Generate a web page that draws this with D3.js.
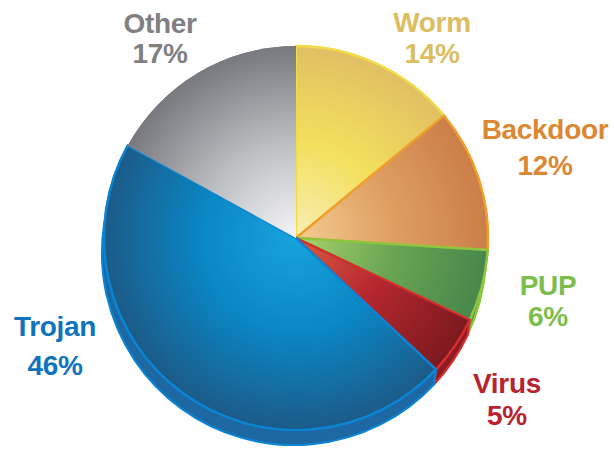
<!DOCTYPE html>
<html>
<head>
<meta charset="utf-8">
<script src="https://cdn.jsdelivr.net/npm/d3@7"></script>
<style>
  html, body { margin: 0; padding: 0; background: #fff; }
  svg { display: block; }
  text { font-family: "Liberation Sans", Arial, Helvetica, sans-serif; font-weight: bold; }
</style>
</head>
<body>
<svg id="chart" width="614" height="451"></svg>
<script>
// Malware detections by type (percent of total)
const categories = ["Worm", "Backdoor", "PUP", "Virus", "Trojan", "Other"];
const shares = [14, 12, 6, 5, 46, 17];

// Styling per category: face gradient stops, edge, side wall and label colour
const faceStops = {
  Worm:     ["#f7eeb6", "#f3e05c", "#e1bf64"],
  Backdoor: ["#f3cc92", "#dfa062", "#cb7e49"],
  PUP:      ["#a9d36c", "#6aa653", "#47874b"],
  Virus:    ["#dc5a40", "#b3262e", "#7c1a1f"],
  Trojan:   ["#17a3dc", "#0a86c4", "#1c5b88"],
  Other:    ["#f6f6f8", "#bcbec2", "#77797e"]
};
const edgeColor = {
  Worm: "#f1dc48", Backdoor: "#f09d2a", PUP: "#8cc63f",
  Virus: "#d22d2f", Trojan: "#0a84d3", Other: "none"
};
const sideColor = {
  Worm: "#d9b949", Backdoor: "#c9783a", PUP: "#5d9e45",
  Virus: "#8e1c22", Trojan: "#1d67a2", Other: "#8a8c90"
};
const labelColor = {
  Worm: "#dcbd5f", Backdoor: "#dc8732", PUP: "#7dbe4b",
  Virus: "#b82332", Trojan: "#0f73be", Other: "#808080"
};
// Label anchor points: [x, baseline of name, baseline of percent]
const labelPos = {
  Worm:     [432, 32, 63],
  Backdoor: [545, 139, 175],
  PUP:      [548, 295, 326],
  Virus:    [507, 393, 425],
  Trojan:   [55, 336, 375],
  Other:    [160, 33, 63]
};

const data = categories.map((c, i) => ({ name: c, value: shares[i] }));

const svg = d3.select("#chart");
const cx = 296, cy = 238, r = 192;
const depthX = -2, depthY = 15;

const pie = d3.pie().value(d => d.value).sort(null).startAngle(0).endAngle(2 * Math.PI);
const arcs = pie(data);
const arc = d3.arc().innerRadius(0).outerRadius(r);

// Radial gradients for the top faces
const defs = svg.append("defs");
arcs.forEach(a => {
  const g = defs.append("radialGradient")
    .attr("id", "grad-" + a.data.name)
    .attr("gradientUnits", "userSpaceOnUse")
    .attr("cx", 0).attr("cy", 0).attr("r", r)
    .attr("fx", 0).attr("fy", 0);
  const s = faceStops[a.data.name];
  g.append("stop").attr("offset", "0%").attr("stop-color", s[0]);
  g.append("stop").attr("offset", "50%").attr("stop-color", s[1]);
  g.append("stop").attr("offset", "100%").attr("stop-color", s[2]);
});

const root = svg.append("g").attr("transform", `translate(${cx},${cy})`);

// Side wall: band between the top rim and the rim of the lowered base
function sidePath(a0, a1) {
  const p = d3.path();
  const t0 = a0 - Math.PI / 2, t1 = a1 - Math.PI / 2;
  p.moveTo(r * Math.cos(t0), r * Math.sin(t0));
  p.arc(0, 0, r, t0, t1, false);
  p.lineTo(depthX + r * Math.cos(t1), depthY + r * Math.sin(t1));
  p.arc(depthX, depthY, r, t1, t0, true);
  p.closePath();
  return p.toString();
}

root.append("g").attr("class", "sides")
  .selectAll("path")
  .data(arcs)
  .join("path")
  .attr("d", a => sidePath(a.startAngle, a.endAngle))
  .attr("fill", a => sideColor[a.data.name])
  .attr("stroke", a => edgeColor[a.data.name])
  .attr("stroke-width", 2.2)
  .attr("stroke-linejoin", "round");

// Top faces
root.append("g").attr("class", "faces")
  .selectAll("path")
  .data(arcs)
  .join("path")
  .attr("d", arc)
  .attr("fill", a => `url(#grad-${a.data.name})`)
  .attr("stroke", a => edgeColor[a.data.name])
  .attr("stroke-width", 2.4)
  .attr("stroke-linejoin", "round");

// Category labels with percentages
const labels = svg.append("g").attr("class", "labels")
  .selectAll("g")
  .data(arcs)
  .join("g")
  .attr("fill", a => labelColor[a.data.name])
  .attr("text-anchor", "middle")
  .style("font-size", "28px");

labels.append("text")
  .attr("x", a => labelPos[a.data.name][0])
  .attr("y", a => labelPos[a.data.name][1])
  .attr("letter-spacing", "-0.3")
  .text(a => a.data.name);

labels.append("text")
  .attr("x", a => labelPos[a.data.name][0])
  .attr("y", a => labelPos[a.data.name][2])
  .attr("letter-spacing", "-0.3")
  .text(a => a.data.value + "%");
</script>
</body>
</html>
